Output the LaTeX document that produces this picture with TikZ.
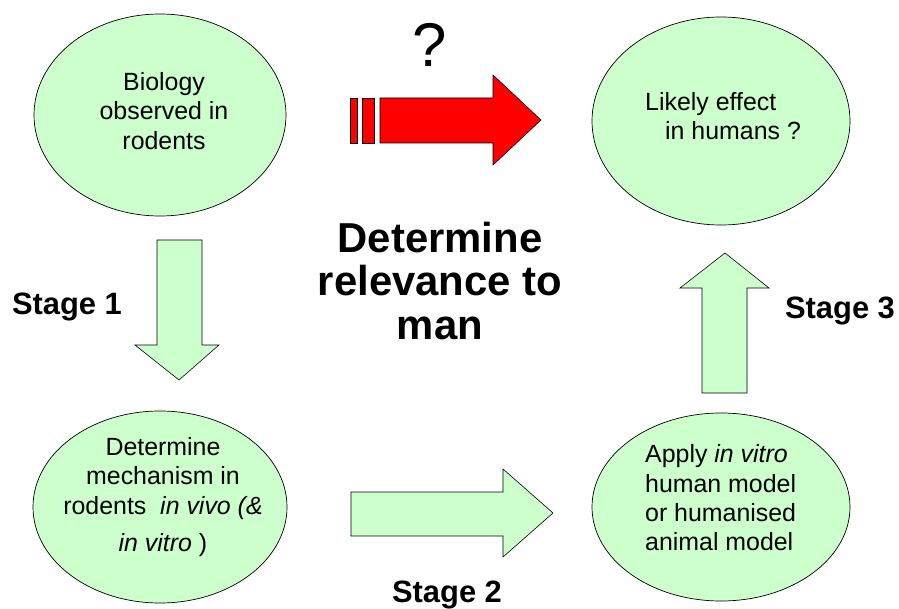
\documentclass[tikz,border=0pt]{standalone}
\usepackage{fontspec}
\setmainfont{Liberation Sans}
\begin{document}
\begin{tikzpicture}[x=1bp,y=-1bp,
  bubble/.style={draw=black,line width=0.7bp,fill=greenfill},
  blockarrow/.style={draw=black,line width=0.6bp,fill=greenfill,line join=miter},
  bodytext/.style={font=\fontsize{25}{29.5}\selectfont,inner sep=0},
  bigtext/.style={font=\fontsize{42}{44}\selectfont\bfseries,align=center,inner sep=0},
  stagetext/.style={font=\fontsize{31}{34}\selectfont\bfseries,inner sep=0}]
\definecolor{greenfill}{RGB}{204,255,204}
\useasboundingbox (0,0) rectangle (899,609);
\fill[white] (0,0) rectangle (899,609);
% ellipses
\draw[bubble] (160,115) ellipse [x radius=126,y radius=101];
\draw[bubble] (721,121) ellipse [x radius=129,y radius=104];
\draw[bubble] (160,507) ellipse [x radius=127,y radius=96];
\draw[bubble] (721,507) ellipse [x radius=129,y radius=94];
% texts in ellipses
\node[bodytext,align=center] (bio) at (164,111) {Biology\\observed in\\rodents};
\node[bodytext,align=left,anchor=west] (likely) at (645,116) {Likely effect\\\hspace{20bp}in humans ?};
\node[bodytext,align=center] (mech) at (163,497) {Determine\\mechanism in\\rodents \ \textit{in vivo (\&}\\[8bp]\textit{in vitro} )};
\node[bodytext,align=left,anchor=west] (apply) at (645,498) {Apply \textit{in vitro}\\human model\\or humanised\\animal model};
% centre text
\node[bigtext] (rel) at (440,281) {Determine\\relevance to\\man};
\node[font=\fontsize{62}{66}\selectfont,inner sep=0] (q) at (430,45) {?};
% stage labels
\node[stagetext] (s1) at (67,307) {Stage 1};
\node[stagetext] (s3) at (840,311) {Stage 3};
\node[stagetext] (s2) at (447,595) {Stage 2};
% red arrow
\draw[line width=0.6bp,fill=red] (350,98) rectangle (357,143);
\draw[line width=0.6bp,fill=red] (362,98) rectangle (374,143);
\draw[line width=0.6bp,fill=red,line join=miter] (380,98) -- (493,98) -- (493,75) -- (541,120) -- (493,165) -- (493,143) -- (380,143) -- cycle;
% stage 1 arrow (down)
\draw[blockarrow] (157,240) -- (202,240) -- (202,345) -- (219,345) -- (179,380) -- (135,345) -- (157,345) -- cycle;
% stage 3 arrow (up)
\draw[blockarrow] (702,393) -- (702,288) -- (680,288) -- (725,253) -- (769,288) -- (747,288) -- (747,393) -- cycle;
% stage 2 arrow (right)
\draw[blockarrow] (351,492) -- (503,492) -- (503,469) -- (553,513) -- (503,557) -- (503,536) -- (351,536) -- cycle;
\end{tikzpicture}
\end{document}
